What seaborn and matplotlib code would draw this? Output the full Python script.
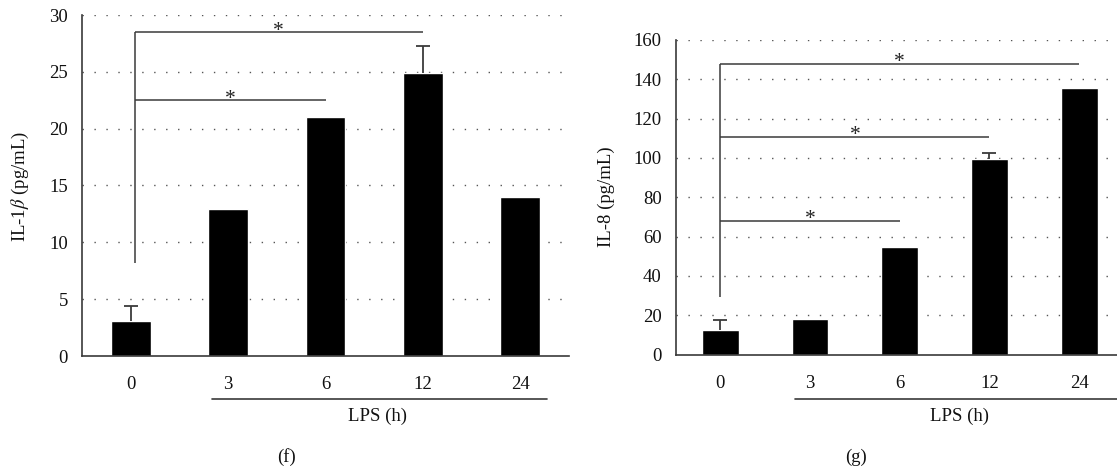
import numpy as np
import pandas as pd
import matplotlib
matplotlib.use("Agg")
import matplotlib.pyplot as plt
import matplotlib.transforms as mtransforms
import seaborn as sns

# ---------------- data ----------------
categories = ["0", "3", "6", "12", "24"]

il1b_values = [3.1, 12.9, 21.0, 24.9, 14.0]
il1b_err_up = [1.3, 0.0, 0.0, 2.4, 0.0]
il1b_bracket_levels = [22.5, 28.5]
il1b_bracket_ends = [2, 3]
il1b_bracket_bottom = 8.2
il1b_yticks = [0, 5, 10, 15, 20, 25, 30]

il8_values = [12.4, 18.0, 54.7, 99.3, 135.5]
il8_err_up = [5.4, 0.0, 0.0, 3.1, 0.0]
il8_bracket_levels = [68.0, 110.8, 148.0]
il8_bracket_ends = [2, 3, 4]
il8_bracket_bottom = 29.5
il8_yticks = [0, 20, 40, 60, 80, 100, 120, 140, 160]

# ---------------- style ----------------
sns.set_style("white")
plt.rcParams["font.family"] = ["Liberation Serif", "DejaVu Serif"]
plt.rcParams["mathtext.fontset"] = "stix"

W, H = 1117, 469
fig = plt.figure(figsize=(W / 100, H / 100), dpi=100)

LINE = "#3a3a3a"
FS = 13.5


def px_rect(x0, y_top, x1, y_bot):
    return [x0 / W, 1 - y_bot / H, (x1 - x0) / W, (y_bot - y_top) / H]


def panel(rect, values, err_up, levels, ends, bottom, yticks, ylab, ylab_xy,
          bracket_dx, under_end, under_y):
    ax = fig.add_axes(rect)
    df = pd.DataFrame({"t": categories, "v": values})
    sns.barplot(data=df, x="t", y="v", ax=ax, color="black", saturation=1,
                width=0.41, order=categories)
    n = len(categories)
    pos = np.arange(n)
    ax.set_xlim(-0.5, n - 0.5)
    ax.set_ylim(0, yticks[-1])
    ax.set_yticks(yticks)
    ax.set_xlabel("")
    ax.set_ylabel("")

    # grid (dotted)
    for yv in yticks[1:]:
        ax.axhline(yv, color="#555555", lw=1.0, ls=(0, (1.0, 7.6)),
                   zorder=0.5)

    # error bars (upper only)
    eu = np.array(err_up)
    m = eu > 0
    _, caps, _ = ax.errorbar(pos[m], np.array(values)[m],
                             yerr=[np.zeros(m.sum()), eu[m]],
                             fmt="none", ecolor=LINE, elinewidth=1.3,
                             capsize=5, capthick=1.3, zorder=3)
    if len(caps) == 2:
        caps[0].set_visible(False)

    # significance brackets
    x0 = bracket_dx
    ax.plot([x0, x0], [bottom, max(levels)], color=LINE, lw=1.1,
            zorder=3, solid_capstyle="butt")
    for lv, e in zip(levels, ends):
        ax.plot([x0, e], [lv, lv], color=LINE, lw=1.1, zorder=3,
                solid_capstyle="butt")
        ax.annotate("*", xy=((x0 + e) / 2, lv), xytext=(0, -2.5),
                    textcoords="offset points", ha="center", va="baseline",
                    fontsize=15.5, color="#222222")

    # spines and ticks
    for s in ["top", "right"]:
        ax.spines[s].set_visible(False)
    for s in ["left", "bottom"]:
        ax.spines[s].set_color(LINE)
        ax.spines[s].set_linewidth(1.2)
    ax.set_xticks(pos)
    ax.set_xticklabels(categories)
    ax.set_xticks(np.arange(-0.5, n, 1.0), minor=True)
    ax.tick_params(axis="x", which="major", length=0, pad=14.5,
                   labelsize=FS, labelcolor="#111111")
    ax.tick_params(axis="x", which="minor", length=6.5, width=1.2,
                   color=LINE, direction="out")
    ax.tick_params(axis="y", which="major", length=5, width=1.2, color=LINE,
                   direction="out", pad=5, labelsize=FS, labelcolor="#111111")
    ax.set_axisbelow(False)

    # LPS underline
    tr = mtransforms.blended_transform_factory(ax.transData, ax.transAxes)
    ax.plot([0.83, under_end], [under_y, under_y], color=LINE, lw=1.2,
            transform=tr, clip_on=False)
    fig.text(ylab_xy[0] / W, 1 - ylab_xy[1] / H, ylab, rotation=90,
             ha="center", va="center", fontsize=FS, color="#111111")
    return ax


axL = panel(px_rect(82, 15, 569, 356), il1b_values, il1b_err_up,
            il1b_bracket_levels, il1b_bracket_ends, il1b_bracket_bottom,
            il1b_yticks, r"IL-1$\mathit{\beta}$ (pg/mL)", (20, 186),
            0.04, 4.27, -0.126)
axR = panel(px_rect(675.5, 40, 1124, 354.5), il8_values, il8_err_up,
            il8_bracket_levels, il8_bracket_ends, il8_bracket_bottom,
            il8_yticks, "IL-8 (pg/mL)", (606, 197),
            0.0, 4.5, -0.1425)

fig.text(378 / W, 1 - 416.5 / H, "LPS (h)", ha="center", va="center",
         fontsize=FS, color="#111111")
fig.text(960 / W, 1 - 416.5 / H, "LPS (h)", ha="center", va="center",
         fontsize=FS, color="#111111")
fig.text(286 / W, 1 - 457 / H, "(f)", ha="center", va="center",
         fontsize=FS, color="#111111")
fig.text(856 / W, 1 - 457 / H, "(g)", ha="center", va="center",
         fontsize=FS, color="#111111")

fig.savefig("out.png", dpi=100)
